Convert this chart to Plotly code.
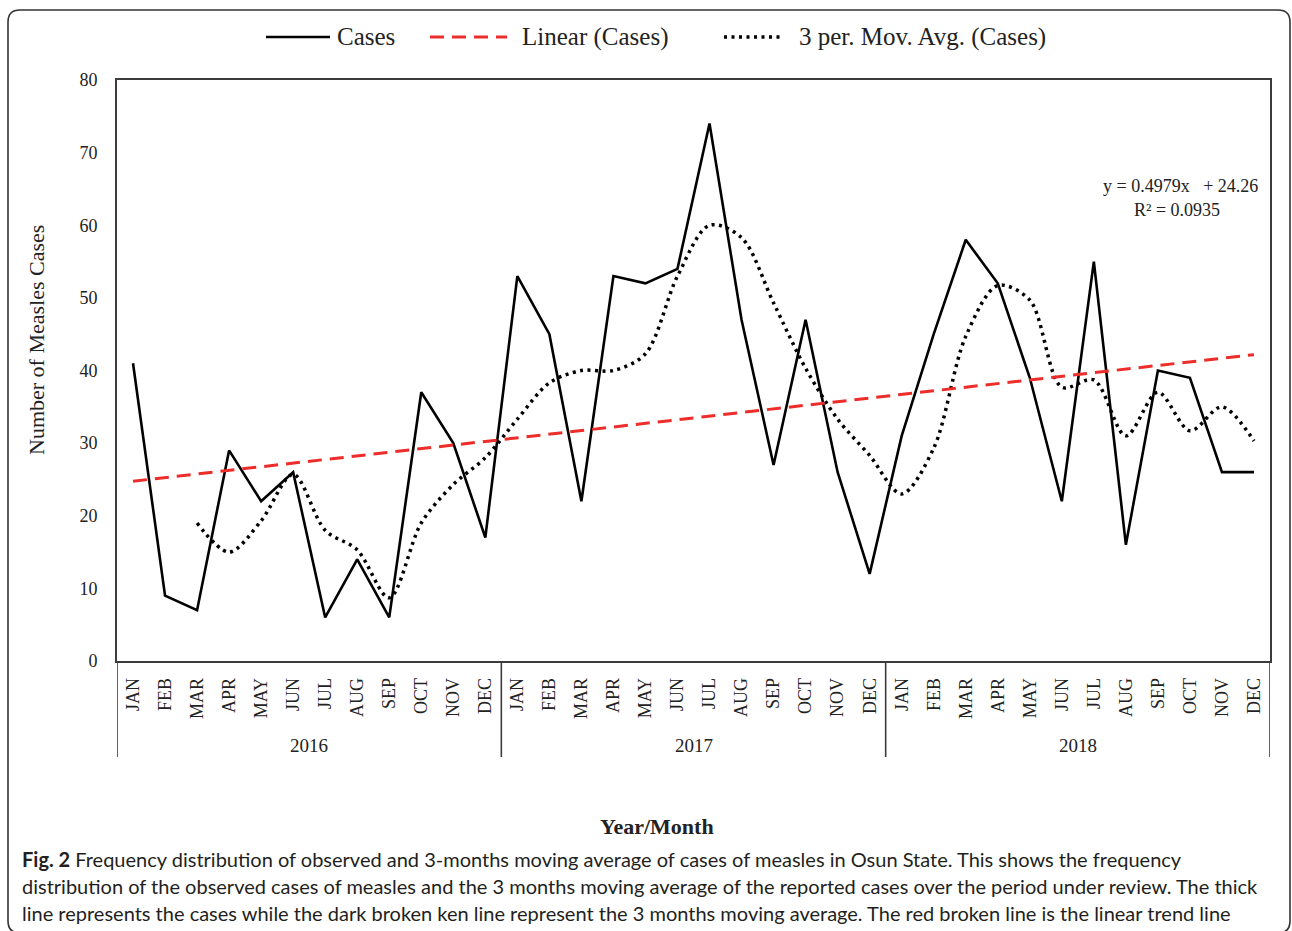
import plotly.graph_objects as go

# ---- data -------------------------------------------------------------
month_labels = ["JAN", "FEB", "MAR", "APR", "MAY", "JUN",
                "JUL", "AUG", "SEP", "OCT", "NOV", "DEC"]
years = ["2016", "2017", "2018"]

cases = [41, 9, 7, 29, 22, 26, 6, 14, 6, 37, 30, 17,
         53, 45, 22, 53, 52, 54, 74, 47, 27, 47, 26, 12,
         31, 45, 58, 52, 39, 22, 55, 16, 40, 39, 26, 26]

moving_avg = [None, None, 19.0, 15.0, 19.3, 25.7, 18.0, 15.3, 8.7, 19.0, 24.3, 28.0,
              33.3, 38.3, 40.0, 40.0, 42.3, 53.0, 60.0, 58.3, 49.3, 40.3, 33.3, 28.3,
              23.0, 29.3, 44.7, 51.7, 49.7, 37.7, 38.7, 31.0, 37.0, 31.7, 35.0, 30.3]

trend_slope = 0.4979
trend_intercept = 24.26
r_squared = 0.0935

caption_lines = [
    "<b>Fig. 2</b> Frequency distribution of observed and 3-months moving average of cases of measles in Osun State. This shows the frequency",
    "distribution of the observed cases of measles and the 3 months moving average of the reported cases over the period under review. The thick",
    "line represents the cases while the dark broken ken line represent the 3 months moving average. The red broken line is the linear trend line",
]

# ---- derived ----------------------------------------------------------
ticktext = month_labels * len(years)
xs = list(range(len(cases)))
trend = [trend_slope * (i + 1) + trend_intercept for i in xs]

# ---- page geometry ----------------------------------------------------
W, H = 1292, 931
ML, MR, MT, MB = 117, 22, 80, 270
PW, PH = W - ML - MR, H - MT - MB

SERIF = "Liberation Serif, Times New Roman, serif"
SANS = "Lato, Open Sans, sans-serif"


def fx(px):
    return (px - ML) / PW


def fy(py):
    return (H - MB - py) / PH


fig = go.Figure()

fig.add_trace(go.Scatter(
    x=xs, y=cases, mode="lines", name="Cases",
    line=dict(color="black", width=2.6),
))
fig.add_trace(go.Scatter(
    x=xs, y=moving_avg, mode="lines", name="3 per. Mov. Avg. (Cases)",
    line=dict(color="black", width=3.5, dash="3px,4.5px", shape="spline", smoothing=0.9),
))
fig.add_trace(go.Scatter(
    x=xs, y=trend, mode="lines", name="Linear (Cases)",
    line=dict(color="#ec2d2a", width=3, dash="14px,8px"),
))

shapes = []
annotations = []

# outer rounded frame
x0, y0, x1, y1, r = 8, 10, 1290, 933, 12
pts = [
    ("M", x0 + r, y0), ("L", x1 - r, y0), ("Q", x1, y0, x1, y0 + r),
    ("L", x1, y1 - r), ("Q", x1, y1, x1 - r, y1), ("L", x0 + r, y1),
    ("Q", x0, y1, x0, y1 - r), ("L", x0, y0 + r), ("Q", x0, y0, x0 + r, y0),
]
path = ""
for p in pts:
    cmd, coords = p[0], p[1:]
    parts = []
    for i in range(0, len(coords), 2):
        parts.append(f"{fx(coords[i]):.5f},{fy(coords[i + 1]):.5f}")
    path += cmd + " " + " ".join(parts) + " "
path += "Z"
shapes.append(dict(type="path", path=path, xref="paper", yref="paper",
                   line=dict(color="#333333", width=1.6)))

# year group dividers below the month labels
for b in [-0.5, 11.5, 23.5, 35.5]:
    shapes.append(dict(type="line", xref="x", yref="paper", x0=b, x1=b,
                       y0=0, y1=fy(757), line=dict(color="#3c3c3c", width=1.6)))
for k, yr in enumerate(years):
    annotations.append(dict(x=12 * k + 5.5, y=fy(745), xref="x", yref="paper",
                            text=yr, showarrow=False,
                            font=dict(family=SERIF, size=19, color="#222"),
                            xanchor="center", yanchor="middle"))

# legend
legend_y = fy(37)
legend_items = [
    (266, 330, dict(color="black", width=2.6), 335, "Cases"),
    (430, 507, dict(color="#ec2d2a", width=3, dash="14px,8px"), 520, "Linear (Cases)"),
    (724, 783, dict(color="black", width=3.5, dash="3px,4.5px"), 797, "3 per. Mov. Avg. (Cases)"),
]
for xa, xb, ln, xt, label in legend_items:
    shapes.append(dict(type="line", xref="paper", yref="paper",
                       x0=fx(xa), x1=fx(xb), y0=legend_y, y1=legend_y, line=ln))
    annotations.append(dict(x=fx(xt), y=legend_y, xref="paper", yref="paper",
                            text=label, showarrow=False, xanchor="left", yanchor="middle",
                            font=dict(family=SERIF, size=25, color="#222")))

# trend equation
annotations.append(dict(x=fx(1260), y=fy(186), xref="paper", yref="paper",
                        text=f"y = {trend_slope}x\u00a0\u00a0\u00a0+ {trend_intercept}",
                        showarrow=False, xanchor="right", yanchor="middle",
                        font=dict(family=SERIF, size=18, color="#222")))
annotations.append(dict(x=fx(1177), y=fy(210), xref="paper", yref="paper",
                        text=f"R\u00b2 = {r_squared}",
                        showarrow=False, xanchor="center", yanchor="middle",
                        font=dict(family=SERIF, size=18, color="#222")))

# axis titles
annotations.append(dict(x=fx(36), y=fy(340), xref="paper", yref="paper",
                        text="Number of Measles Cases", textangle=-90, showarrow=False,
                        xanchor="center", yanchor="middle",
                        font=dict(family=SERIF, size=22, color="#222")))
annotations.append(dict(x=fx(657), y=fy(826), xref="paper", yref="paper",
                        text="<b>Year/Month</b>", showarrow=False,
                        xanchor="center", yanchor="middle",
                        font=dict(family=SERIF, size=22, color="#222")))

# caption
for i, line in enumerate(caption_lines):
    annotations.append(dict(x=fx(20), y=fy(859 + 27 * i), xref="paper", yref="paper",
                            text=line, showarrow=False, xanchor="left", yanchor="middle",
                            font=dict(family=SANS, size=20, color="#231f20")))

fig.update_layout(
    width=W, height=H,
    margin=dict(l=ML, r=MR, t=MT, b=MB, pad=0),
    paper_bgcolor="white", plot_bgcolor="white",
    showlegend=False,
    shapes=shapes, annotations=annotations,
    xaxis=dict(
        range=[-0.5, len(cases) - 0.5], tickmode="array", tickvals=xs, ticktext=ticktext,
        tickangle=-90, ticks="", showgrid=False, zeroline=False,
        showline=True, mirror=True, linecolor="#3c3c3c", linewidth=1.6,
        tickfont=dict(family=SERIF, size=18, color="#222"), ticklabelstandoff=8,
    ),
    yaxis=dict(
        range=[0, 80], dtick=10, ticks="", showgrid=False, zeroline=False,
        showline=True, mirror=True, linecolor="#3c3c3c", linewidth=1.6,
        tickfont=dict(family=SERIF, size=18, color="#222"), ticklabelstandoff=14,
    ),
)

fig.write_html("out.html")
